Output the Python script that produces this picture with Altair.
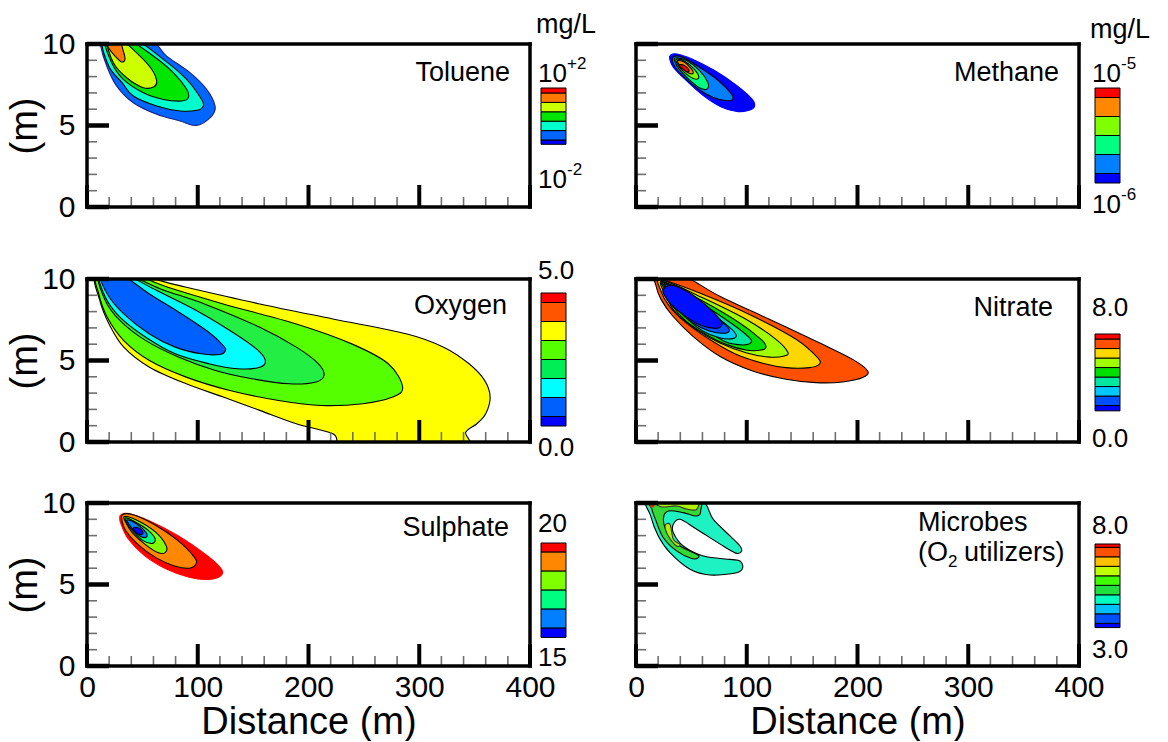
import altair as alt
import pandas as pd

FONT = "Liberation Sans"
W, H = 443, 163
CB_W = 25

# ---------------- axis ticks ----------------
x_minor = [20, 40, 60, 80, 120, 140, 160, 180, 220, 240, 260, 280, 320, 340, 360, 380]
x_major = [0, 100, 200, 300, 400]
y_minor = [1, 2, 3, 4, 6, 7, 8, 9]
y_major = [0, 5, 10]
x_labels = [0, 100, 200, 300, 400]
y_labels = [0, 5, 10]
frame_x = [0, 400]
frame_y = [0, 10]

# ---------------- contour outlines (distance m, elevation m), outermost first ----------------
toluene_x = [
    [13.2, 55, 71.9, 93, 108, 115.6, 112.6, 99, 84, 62.9, 41.8, 26.8, 17.8, 12.3],
    [14.7, 42, 68.9, 90, 103.5, 105, 100.5, 84, 62.9, 41.8, 31.7, 19.6],
    [16.3, 36, 59.9, 77.9, 90, 91.5, 85.5, 68.9, 50.9, 32.8, 22.3],
    [17.8, 30, 47.9, 58.4, 62.9, 60.5, 50.9, 35.8, 23.8],
    [16.3, 28.3, 32.8, 34.3, 31.3, 25.3, 19.3],
]
toluene_y = [
    [10.3, 10.3, 9.26, 8.24, 7.22, 6.2, 5.58, 5.01, 5.28, 5.69, 6.4, 7.42, 8.65, 9.88],
    [10.3, 10.3, 9.06, 7.83, 6.6, 6.2, 5.95, 5.89, 6.2, 6.81, 7.63, 8.65],
    [10.3, 10.3, 9.26, 8.24, 7.22, 6.71, 6.5, 6.6, 7.01, 7.83, 8.85],
    [10.3, 10.3, 9.26, 8.45, 7.73, 7.38, 7.32, 7.93, 8.85],
    [10.3, 10.3, 9.57, 9.06, 8.9, 9.26, 9.77],
]
methane_x = [
    [31.4, 37.1, 50.6, 70.9, 91.1, 104.6, 107, 101.3, 91.1, 77.6, 60.8, 43.9, 33.8, 30.4],
    [33.8, 42.2, 57.4, 74.3, 86.1, 87.1, 81, 69.2, 54, 40.5, 33.8],
    [35.4, 45.6, 57.4, 64.8, 64.1, 57.4, 47.3, 38.8, 35.4],
    [36.5, 43.9, 52.3, 56.7, 54, 47.3, 40.5, 37.1],
    [37.8, 43.9, 50, 51.6, 47.9, 42.2, 38.5],
    [39.2, 43.9, 47.9, 46.6, 42.2],
]
methane_y = [
    [9.33, 9.39, 9.08, 8.37, 7.45, 6.63, 6.16, 5.92, 5.86, 6.12, 6.84, 7.86, 8.57, 9.08],
    [9.22, 9.18, 8.57, 7.76, 6.94, 6.59, 6.53, 6.73, 7.35, 8.16, 8.78],
    [9.14, 8.98, 8.37, 7.65, 7.24, 7.31, 7.86, 8.47, 8.88],
    [9.06, 8.94, 8.47, 8.0, 7.84, 8.06, 8.47, 8.82],
    [8.98, 8.88, 8.47, 8.2, 8.2, 8.47, 8.78],
    [8.73, 8.67, 8.41, 8.29, 8.47],
]
oxygen_x = [
    [8.3, 40, 89.6, 156, 222, 289, 322, 345, 359, 364, 360, 352, 342, 338, 238, 222, 189, 156, 123, 89.6, 56.4, 33.2, 19.9, 11.6],
    [9.3, 40, 73, 123, 189, 239, 272, 285, 276, 249, 212, 173, 129, 89.6, 56.4, 33.2, 18.3, 10.6],
    [10.6, 35, 66.4, 106, 156, 189, 209, 214, 206, 183, 149, 116, 83, 53.1, 29.9, 16.6],
    [11.6, 33, 63.1, 96.3, 129, 153, 161, 156, 136, 110, 79.7, 53.1, 29.9, 16.6],
    [12.6, 30, 56.4, 83, 110, 123, 125, 120, 103, 79.7, 56.4, 33.2, 18.3],
]
oxygen_y = [
    [10.3, 10.3, 9.49, 8.47, 7.55, 6.63, 5.82, 4.8, 3.78, 2.76, 1.73, 1.12, 0.61, -0.4, -0.4, 0.5, 1.12, 1.94, 2.76, 3.57, 4.59, 5.82, 7.24, 8.67],
    [10.3, 10.3, 9.49, 8.47, 7.24, 6.02, 4.8, 3.37, 2.76, 2.35, 2.24, 2.55, 3.16, 3.98, 5.0, 6.22, 7.65, 9.08],
    [10.3, 10.3, 9.39, 8.47, 7.04, 5.82, 4.8, 4.08, 3.67, 3.57, 3.88, 4.39, 5.2, 6.22, 7.45, 8.67],
    [10.3, 10.3, 9.29, 8.16, 6.84, 5.71, 5.0, 4.59, 4.49, 4.8, 5.41, 6.43, 7.65, 8.88],
    [10.3, 10.3, 9.08, 7.96, 6.73, 5.92, 5.61, 5.37, 5.41, 5.82, 6.63, 7.86, 9.08],
]
nitrate_x = [
    [18.1, 42.1, 75.2, 120.4, 165.5, 195.6, 209.2, 204.7, 186.6, 162.5, 135.4, 105.3, 75.2, 51.2, 33.1, 22.6, 18.1],
    [22.6, 60.2, 105.3, 144.5, 164, 165.5, 156.5, 135.4, 114.4, 90.3, 66.2, 45.1, 30.1, 22.6],
    [24.1, 60.2, 99.3, 126.4, 137, 133.9, 120.4, 99.3, 75.2, 54.2, 36.1, 27.1],
    [24.7, 60.2, 93.3, 112.9, 117.4, 112.9, 99.3, 81.3, 63.2, 45.1, 33.1, 26.5],
    [25.6, 60.2, 87.3, 102.3, 103.8, 96.3, 81.3, 64.7, 48.2, 36.1, 28.6],
    [27.1, 60.2, 81.3, 90.3, 87.3, 75.2, 60.2, 45.1, 34.6, 29.2],
    [27.7, 60.2, 78.3, 84.3, 79.8, 66.2, 51.2, 37.6, 30.1],
    [24.7, 33.1, 48.2, 64.7, 75.2, 77.7, 72.2, 58.7, 43.6, 31.6, 25.6],
]
nitrate_y = [
    [10.2, 10.2, 8.96, 7.53, 6.09, 5.07, 4.36, 3.95, 3.68, 3.64, 3.85, 4.36, 5.28, 6.5, 7.73, 8.75, 9.57],
    [9.95, 9.06, 7.73, 6.3, 5.17, 4.77, 4.56, 4.56, 4.83, 5.38, 6.3, 7.32, 8.34, 9.26],
    [9.9, 8.85, 7.53, 6.3, 5.52, 5.28, 5.21, 5.48, 6.09, 6.91, 7.93, 8.96],
    [9.85, 8.65, 7.32, 6.3, 5.85, 5.64, 5.64, 5.99, 6.6, 7.42, 8.34, 9.26],
    [9.8, 8.45, 7.22, 6.4, 6.09, 5.95, 6.13, 6.81, 7.53, 8.34, 9.26],
    [9.74, 8.24, 7.22, 6.6, 6.34, 6.4, 6.81, 7.63, 8.55, 9.37],
    [9.67, 8.14, 7.32, 6.87, 6.67, 6.81, 7.32, 8.14, 9.16],
    [9.37, 9.61, 9.16, 8.3, 7.57, 7.2, 6.97, 7.16, 7.77, 8.45, 9.0],
]
sulphate_x = [
    [30.6, 37.3, 55.6, 82.2, 108.8, 121.5, 120.5, 108.8, 92.2, 72.2, 52.2, 37.3, 30.6, 29.6],
    [32.3, 42.3, 62.2, 82.2, 97.2, 98.2, 92.2, 78.9, 62.2, 45.6, 34.9, 31.6],
    [33.9, 45.6, 62.2, 71.5, 70.5, 63.9, 52.2, 40.6, 35],
    [35, 45.6, 55.6, 61.6, 58.9, 50.6, 42.3, 36.3],
    [36.3, 45.6, 53.2, 53.9, 48.9, 42.3, 37.6],
    [42.3, 48.3, 50.6, 47.3, 42.9],
]
sulphate_y = [
    [9.26, 9.36, 8.93, 8.0, 6.76, 5.93, 5.52, 5.31, 5.45, 5.93, 6.76, 7.79, 8.72, 9.09],
    [9.3, 9.26, 8.62, 7.69, 6.65, 6.24, 6.0, 6.14, 6.65, 7.48, 8.31, 8.93],
    [9.17, 8.93, 8.2, 7.38, 6.96, 6.96, 7.48, 8.2, 8.82],
    [9.09, 8.76, 8.31, 7.79, 7.52, 7.69, 8.2, 8.72],
    [8.97, 8.68, 8.2, 7.93, 7.93, 8.31, 8.72],
    [8.51, 8.41, 8.14, 8.06, 8.26],
]
microbes_x = [
    [11.1, 56.2, 69.8, 84.9, 93.9, 95.4, 90.9, 78.8, 54.8, 39.7, 33.7, 33.7, 42.7, 60.8, 84.9, 93.9, 96.3, 90.9, 66.8, 48.8, 30.7, 20.1, 13.3],
    [13.2, 54.8, 58.4, 54.8, 42.7, 29.2, 24.7, 29.2, 39.7, 54.8, 56.3, 50.3, 36.7, 24.7, 18.1, 14.4],
    [17.2, 53.3, 54.8, 45.8, 36.7, 21.7],
    [26.2, 30.7, 33.7, 39.7, 36.7, 29.2],
    [12.6, 17.0, 16.0, 13.0],
]
microbes_y = [
    [10.3, 10.3, 9.0, 7.98, 7.36, 7.06, 6.91, 7.36, 8.39, 9.0, 8.69, 8.18, 7.36, 6.75, 6.54, 6.44, 6.03, 5.72, 5.58, 5.93, 6.95, 7.98, 9.2],
    [10.3, 10.3, 9.51, 9.2, 9.41, 9.51, 9.0, 8.08, 7.36, 6.85, 6.65, 6.59, 7.06, 7.87, 8.9, 9.61],
    [10.3, 10.3, 9.61, 9.63, 9.82, 9.78],
    [8.59, 8.69, 7.77, 7.46, 7.36, 7.98],
    [10.3, 10.3, 9.8, 9.8],
]

# ---------------- colour-bar bands (bottom -> top) ----------------
toluene_bands = ["#0000ff", "#0066ff", "#00ffcc", "#00e600", "#ccff00", "#ff7800", "#ff0000"]
toluene_band_size = [0.46, 1, 1, 1, 1, 1, 0.53]
methane_bands = ["#0000ff", "#0080ff", "#00ff80", "#80ff00", "#ff8800", "#ff0000"]
methane_band_size = [0.5, 1, 1, 1, 1, 0.5]
oxygen_bands = ["#0000ff", "#0060ff", "#00ffff", "#00ee55", "#55ff00", "#ffff00", "#ff5500", "#ff0000"]
oxygen_band_size = [0.5, 1, 1, 1, 1, 1, 1, 0.5]
nitrate_bands = ["#0000ff", "#0050ff", "#00c8ff", "#00e8a0", "#00e000", "#a0ff00", "#ffd700", "#ff5000", "#ff0000"]
nitrate_band_size = [0.56, 1, 1, 1, 1, 1, 1, 1, 0.53]
sulphate_bands = ["#0000ff", "#0080ff", "#00ff80", "#80ff00", "#ff8800", "#ff0000"]
sulphate_band_size = [0.5, 1, 1, 1, 1, 0.47]
microbes_bands = ["#0000ff", "#0050ff", "#00c0ff", "#00ffc0", "#20e040", "#40ff00", "#c0ff00", "#ffc000", "#ff5000", "#ff0000"]
microbes_band_size = [0.45, 1, 1, 1, 1, 1, 1, 1, 1, 0.35]

# ---------------- styles ----------------
toluene_fill = ["#0066ff", "#00ffcc", "#00e600", "#ccff00", "#ff7800"]
toluene_stroke = ["#1a237e", "black", "black", "black", "black"]
methane_fill = ["#0000ff", "#0080ff", "#00ff80", "#80ff00", "#ff8800", "#ff0000"]
methane_stroke = ["#0000ff", "black", "black", "black", "black", "black"]
oxygen_fill = ["#ffff00", "#55ff00", "#22ee44", "#00ffff", "#0060ff"]
oxygen_stroke = ["black"] * 5
nitrate_fill = ["#ff5000", "#ffd700", "#a0ff00", "#00e000", "#00e8a0", "#00c8ff", "#0050ff", "#0010ff"]
nitrate_stroke = ["black"] * 8
sulphate_fill = ["#ff0000", "#ff8800", "#80ff00", "#00ff80", "#0080ff", "#0000ff"]
sulphate_stroke = ["#ff0000", "black", "black", "black", "black", "black"]
microbes_fill = ["#1ef2c2", "#36d836", "#b4f000", "#b4f000", "#e03000"]
microbes_stroke = ["black", "black", "#333333", "#333333", "#e03000"]

XS = alt.Scale(domain=[0, 400], range=[0, W], nice=False, zero=False)
YS = alt.Scale(domain=[0, 10], range=[H, 0], nice=False, zero=False)
XAX = alt.Axis(values=x_labels, format="d", title="Distance (m)", labelPadding=6,
               titlePadding=1, labelFontSize=30, titleFontSize=38)
YAX = alt.Axis(values=y_labels, format="d", title="(m)", labelPadding=12,
               titlePadding=-3, labelFontSize=30, titleFontSize=38)


def panel_layers(xs_list, ys_list, fills, strokes, texts, show_x, show_y):
    xa = XAX if show_x else None
    ya = YAX if show_y else None
    layers = []
    for xs, ys, f, s in zip(xs_list, ys_list, fills, strokes):
        df = pd.DataFrame({"x": xs, "y": ys, "i": list(range(len(xs)))})
        layers.append(
            alt.Chart(df).mark_line(interpolate="cardinal-closed", fill=f, stroke=s,
                                    strokeWidth=1.1, clip=True).encode(
                x=alt.X("x:Q", scale=XS, axis=xa),
                y=alt.Y("y:Q", scale=YS, axis=ya),
                order="i:Q"))
    layers.append(alt.Chart(pd.DataFrame({"v": x_minor})).mark_rule(color="#707070", strokeWidth=1.6).encode(
        x=alt.X("v:Q", scale=XS, axis=xa), y=alt.value(H), y2=alt.value(H - 10)))
    layers.append(alt.Chart(pd.DataFrame({"v": x_major})).mark_rule(color="black", strokeWidth=4).encode(
        x=alt.X("v:Q", scale=XS, axis=xa), y=alt.value(H), y2=alt.value(H - 22)))
    layers.append(alt.Chart(pd.DataFrame({"v": y_minor})).mark_rule(color="#707070", strokeWidth=1.6).encode(
        y=alt.Y("v:Q", scale=YS, axis=ya), x=alt.value(0), x2=alt.value(10)))
    layers.append(alt.Chart(pd.DataFrame({"v": y_major})).mark_rule(color="black", strokeWidth=4.5).encode(
        y=alt.Y("v:Q", scale=YS, axis=ya), x=alt.value(0), x2=alt.value(22)))
    layers.append(alt.Chart(pd.DataFrame({"v": frame_y})).mark_rule(color="black", strokeWidth=3.5, strokeCap="square").encode(
        y=alt.Y("v:Q", scale=YS, axis=ya), x=alt.value(0), x2=alt.value(W)))
    layers.append(alt.Chart(pd.DataFrame({"v": frame_x})).mark_rule(color="black", strokeWidth=3.5, strokeCap="square").encode(
        x=alt.X("v:Q", scale=XS, axis=xa), y=alt.value(0), y2=alt.value(H)))
    for t, px, py, al, size, dy in texts:
        layers.append(alt.Chart(pd.DataFrame({"t": [t]})).mark_text(
            align=al, baseline="middle", font=FONT, fontSize=size, dy=dy, color="black").encode(
            text="t:N", x=alt.value(px), y=alt.value(py)))
    return alt.layer(*layers)


def colorbar_layers(cb_x0, colors, sizes, top_off, unit, top_txt, top_dy, bot_txt, bot_dy,
                    top_sup="", bot_sup="", unit_txt="", unit_dy=0):
    lo, hi = [], []
    acc = 0.0
    for s in sizes:
        lo.append(acc)
        acc += s
        hi.append(acc)
    total = acc
    sc = alt.Scale(domain=[0, total], range=[top_off + total * unit, top_off], nice=False, zero=False)
    df = pd.DataFrame({"lo": lo, "hi": hi, "c": colors})
    layers = [alt.Chart(df).mark_rect(stroke="black", strokeWidth=1).encode(
        y=alt.Y("lo:Q", scale=sc, axis=None), y2="hi:Q",
        x=alt.value(cb_x0), x2=alt.value(cb_x0 + CB_W),
        fill=alt.Fill("c:N", scale=None))]

    def txt(t, v, dy, size, dx):
        return alt.Chart(pd.DataFrame({"v": [v], "t": [t]})).mark_text(
            align="left", baseline="middle", font=FONT, fontSize=size, dy=dy, dx=dx, color="black").encode(
            x=alt.value(cb_x0), y=alt.Y("v:Q", scale=sc, axis=None), text="t:N")

    layers.append(txt(top_txt, total, top_dy, 26, -3))
    layers.append(txt(bot_txt, 0, bot_dy, 26, -3))
    if top_sup:
        layers.append(txt(top_sup, total, top_dy - 10, 17, 26))
    if bot_sup:
        layers.append(txt(bot_sup, 0, bot_dy - 10, 17, 26))
    if unit_txt:
        layers.append(txt(unit_txt, total, unit_dy, 27, -5))
    return alt.layer(*layers)


def cell(pl, cl, cell_h):
    return alt.layer(pl, cl).resolve_scale(x="independent", y="independent").properties(
        width=W, height=cell_h)


LX, RX = 454, 459   # colour-bar left edge inside left / right cells
c1 = cell(panel_layers(toluene_x, toluene_y, toluene_fill, toluene_stroke,
                       [("Toluene", 423, 29, "right", 27, 0)], False, True),
          colorbar_layers(LX, toluene_bands, toluene_band_size, 44, 9.4, "10", -14, "10", 36,
                          top_sup="+2", bot_sup="-2", unit_txt="mg/L", unit_dy=-63), H + 11)
c2 = cell(panel_layers(methane_x, methane_y, methane_fill, methane_stroke,
                       [("Methane", 423, 29, "right", 27, 0)], False, False),
          colorbar_layers(RX, methane_bands, methane_band_size, 44, 19, "10", -14, "10", 22,
                          top_sup="-5", bot_sup="-6", unit_txt="mg/L", unit_dy=-58), H + 11)
c3 = cell(panel_layers(oxygen_x, oxygen_y, oxygen_fill, oxygen_stroke,
                       [("Oxygen", 420, 27, "right", 27, 0)], False, True),
          colorbar_layers(LX, oxygen_bands, oxygen_band_size, 14, 19, "5.0", -22, "0.0", 22), H)
c4 = cell(panel_layers(nitrate_x, nitrate_y, nitrate_fill, nitrate_stroke,
                       [("Nitrate", 417, 29, "right", 27, 0)], False, False),
          colorbar_layers(RX, nitrate_bands, nitrate_band_size, 55, 9.5, "8.0", -26, "0.0", 28), H)
c5 = cell(panel_layers(sulphate_x, sulphate_y, sulphate_fill, sulphate_stroke,
                       [("Sulphate", 422, 25, "right", 27, 0)], True, True),
          colorbar_layers(LX, sulphate_bands, sulphate_band_size, 40, 19, "20", -19, "15", 21), H)
c6 = cell(panel_layers(microbes_x, microbes_y, microbes_fill, microbes_stroke,
                       [("Microbes", 282, 20, "left", 27, 0),
                        ("(O", 282, 50, "left", 27, 0),
                        ("2", 312, 50, "left", 17, 9),
                        ("utilizers)", 328, 50, "left", 27, 0)], True, False),
          colorbar_layers(RX, microbes_bands, microbes_band_size, 41, 9.5, "8.0", -18, "3.0", 22), H)

chart = alt.concat(
    c1, c2, c3, c4, c5, c6, columns=2,
    spacing={"row": 61, "column": 106}, bounds="flush", align="each",
).properties(
    padding={"left": 6, "top": 11, "right": 0, "bottom": 0},
    background="white",
).configure_view(strokeWidth=0).configure_axis(
    domain=False, ticks=False, grid=False, labelFont=FONT, titleFont=FONT,
    labelColor="black", titleColor="black", titleFontWeight="normal",
    labelFlush=False, labelOverlap=False,
)

chart.save("out.html", embed_options={"renderer": "svg", "actions": False})
